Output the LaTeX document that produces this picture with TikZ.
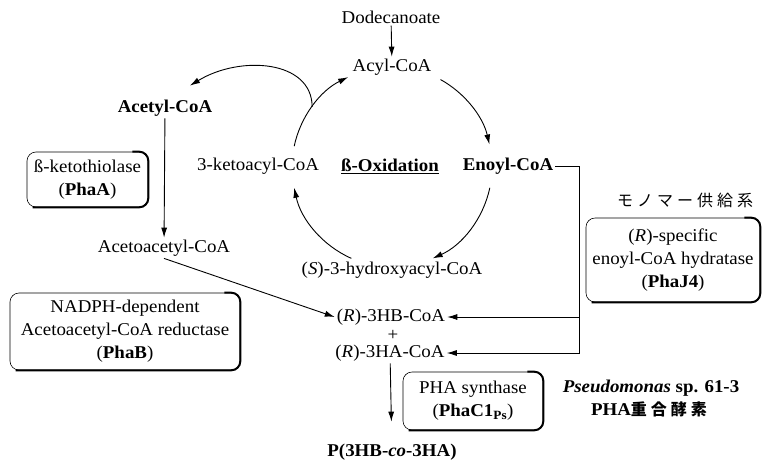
\documentclass[tikz,border=0pt]{standalone}
\usepackage{fontspec}
\setmainfont{Liberation Serif}[FakeStretch=1.05]
\newfontfamily\cjk{Noto Sans CJK JP}[LetterSpace=25]
\usetikzlibrary{calc,positioning,arrows.meta}

\begin{document}
\begin{tikzpicture}[x=1pt,y=-1pt,>={Latex[length=10pt,width=6pt]},
  font=\fontsize{18}{23}\selectfont]
  \tikzset{
    flow/.style={line width=0.9pt},
    metab/.style={inner sep=2pt},
    enzbox/.style={draw,line width=0.6pt,rounded corners=9pt,align=center,inner sep=3pt},
    heavy/.style={line width=2pt,rounded corners=9pt},
  }
\useasboundingbox (0,0) rectangle (762,463);

% beta-oxidation cycle
\coordinate (cc) at (392,167);
\node[metab] (dode) at (391,17) {Dodecanoate};
\node[metab] (acyl) at (392,67) {Acyl-CoA};
\node[metab] (keto) at (258,166) {3-ketoacyl-CoA};
\node[metab] (boxi) at (390,166) {\underline{\textbf{ß-Oxidation}}};
\node[metab] (enoyl) at (508,166) {\textbf{Enoyl-CoA}};
\node[metab] (shyd) at (392,270) {(\textit{S})-3-hydroxyacyl-CoA};

\draw[flow,->] (dode) -- (acyl);
\draw[flow,->] ($(cc)+(-61:100)$) arc[start angle=-61,end angle=-13,radius=100];
\draw[flow,->] ($(cc)+(12:100)$) arc[start angle=12,end angle=66,radius=100];
\draw[flow,->] ($(cc)+(114:100)$) arc[start angle=114,end angle=168,radius=100];
\draw[flow,->] ($(cc)+(-168:100)$) arc[start angle=-168,end angle=-116,radius=100];

% PhaA / PhaB route
\node[metab] (acetyl) at (165,108) {\textbf{Acetyl-CoA}};
\node[metab] (acetoac) at (164,248) {Acetoacetyl-CoA};
\coordinate (br) at ($(cc)+(-143:100)$);
\draw[flow,->] (br) .. controls (312,60) and (240,55) .. ([shift={(25,-12)}]acetyl.north);
\draw[flow,->] (acetyl) -- (acetoac);

\node[enzbox,minimum width=121pt,minimum height=55pt] (thio) at (87.5,179.5)
  {ß-ketothiolase\\(\textbf{PhaA})};
\node[enzbox,minimum width=230pt,minimum height=77pt] (nadph) at (125,331.5)
  {NADPH-dependent\\Acetoacetyl-CoA reductase\\(\textbf{PhaB})};

% monomers
\node[metab] (r3hb) at (391,317) {(\textit{R})-3HB-CoA};
\node[metab] (plus) at (393,335) {+};
\node[metab] (r3ha) at (390,353) {(\textit{R})-3HA-CoA};
\draw[flow,->] (acetoac.south) -- (r3hb.west);

% PhaJ4 route
\coordinate (jn) at (579,0);
\draw[flow,->] (enoyl.east) -- (enoyl.east -| jn) |- (r3ha.east);
\draw[flow,->] (jn |- r3hb) -- (r3hb.east);
\node (mono) at (685,200) {\cjk\fontsize{16}{18}\selectfont モノマー供給系};
\node[enzbox,minimum width=174pt,minimum height=84pt] (phaj) at (673,260)
  {(\textit{R})-specific\\enoyl-CoA hydratase\\(\textbf{PhaJ4})};

% polymerization
\node[metab] (prod) at (392,452) {\textbf{P(3HB-\textit{co}-3HA)}};
\draw[flow,->,shorten >=20pt] (r3ha) -- (prod);
\node[enzbox,minimum width=140pt,minimum height=58pt] (phac) at (473,401)
  {PHA synthase\\(\textbf{PhaC1\textsubscript{Ps}})};
\node[align=center] (pseudo) at (651,399)
  {\textbf{\textit{Pseudomonas} sp. 61-3}\\\textbf{PHA{\cjk\fontsize{16}{18}\selectfont 重合酵素}}};

\foreach \b in {thio,nadph,phaj,phac}
  \draw[heavy] ([xshift=-16pt]\b.north east) -- (\b.north east) -- (\b.south east)
    -- ([xshift=6pt]\b.south west);
\end{tikzpicture}
\end{document}
